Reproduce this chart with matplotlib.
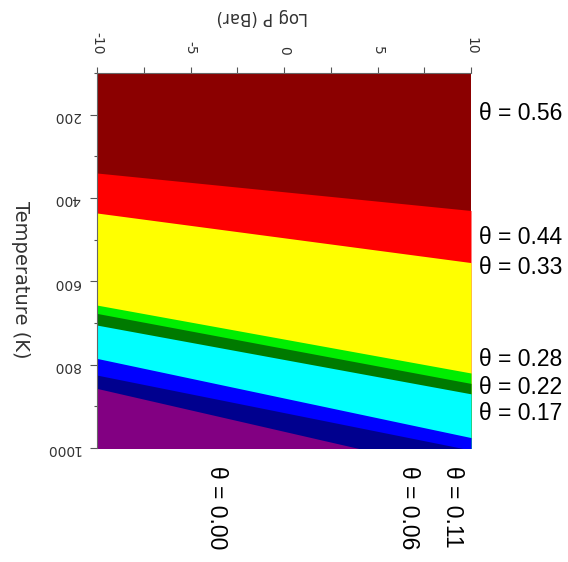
import matplotlib
matplotlib.use("Agg")
import matplotlib.pyplot as plt
from matplotlib.ticker import MultipleLocator

# Pressure axis (log10 bar) and temperature axis (K)
log_p = [-10, 10]
temp_min, temp_max = 100, 1000
p_ticks = [-10, -5, 0, 5, 10]
t_ticks = [200, 400, 600, 800, 1000]

# Phase boundaries: temperature at log P = -10 and at log P = +10
boundary_t_low = [340, 436, 657, 677, 705, 785, 825, 857]
boundary_t_high = [430, 555, 820, 845, 870, 975, 1005, 1063]

# Coverage of each phase, ordered from low to high temperature
theta_values = [0.56, 0.44, 0.33, 0.28, 0.22, 0.17, 0.11, 0.06, 0.00]
phase_colors = ["#8b0000", "#ff0000", "#ffff00", "#00ee00", "#007a00",
                "#00ffff", "#0000ff", "#00008e", "#820082"]

W, H = 568, 562
fig = plt.figure(figsize=(W / 100, H / 100), dpi=100)
ax = fig.add_axes([97 / W, 1 - 448 / H, 374 / W, 375 / H])

# Stack the phases: each one fills from its upper boundary downwards,
# later phases cover the earlier ones.
for i, color in enumerate(phase_colors):
    if i == 0:
        top = [temp_min - 50, temp_min - 50]
    else:
        top = [boundary_t_low[i - 1], boundary_t_high[i - 1]]
    ax.fill_between(log_p, top, [temp_max + 200] * 2, color=color,
                    linewidth=0, antialiased=True)

ax.set_xlim(log_p[0], log_p[1])
ax.set_ylim(temp_max, temp_min)

ax.xaxis.tick_top()
ax.set_xticks(p_ticks)
ax.set_xticklabels([str(v) for v in p_ticks])
ax.xaxis.set_minor_locator(MultipleLocator(2.5))
ax.set_yticks(t_ticks)
ax.set_yticklabels([str(v) for v in t_ticks])
ax.yaxis.set_minor_locator(MultipleLocator(100))

tick_color = "#555555"
ax.tick_params(axis="x", which="both", direction="out", length=4, width=0.8,
               colors=tick_color, top=True, bottom=False, labeltop=True,
               labelbottom=False, labelrotation=-90, labelsize=10, pad=9)
ax.tick_params(axis="y", which="major", direction="out", length=5, width=0.8,
               colors=tick_color, labelrotation=180, labelsize=10, pad=7)
ax.tick_params(axis="y", which="minor", direction="out", length=2.5,
               width=0.8, colors=tick_color)
for lab in ax.get_xticklabels():
    lab.set_color("#333333")
for lab in ax.get_yticklabels():
    lab.set_color("#333333")

for side in ("right", "bottom"):
    ax.spines[side].set_visible(False)
for side in ("top", "left"):
    ax.spines[side].set_color("#666666")
    ax.spines[side].set_linewidth(0.8)

# Axis titles
fig.text(262 / W, 1 - 17 / H, "Log P (Bar)", rotation=180, ha="center",
         va="center", fontsize=12, color="#333333")
fig.text(20 / W, 1 - 280 / H, "Temperature (K)", rotation=-90, ha="center",
         va="center", fontsize=14, color="#333333")

# Coverage labels
label_font = dict(family="Liberation Sans", fontsize=16.5, color="black")
right_y = [113, 237, 267, 360, 387, 413]
for theta, y in zip(theta_values[:6], right_y):
    fig.text(479 / W, 1 - y / H, f"\u03b8 = {theta:.2f}", ha="left",
             va="center", **label_font)

bottom_x = [453, 408, 217]
for theta, x in zip(theta_values[6:], bottom_x):
    fig.text(x / W, 1 - 466 / H, f"\u03b8 = {theta:.2f}", rotation=-90,
             rotation_mode="anchor", ha="left", va="center", **label_font)

fig.savefig("out.png", dpi=100, facecolor="white")
